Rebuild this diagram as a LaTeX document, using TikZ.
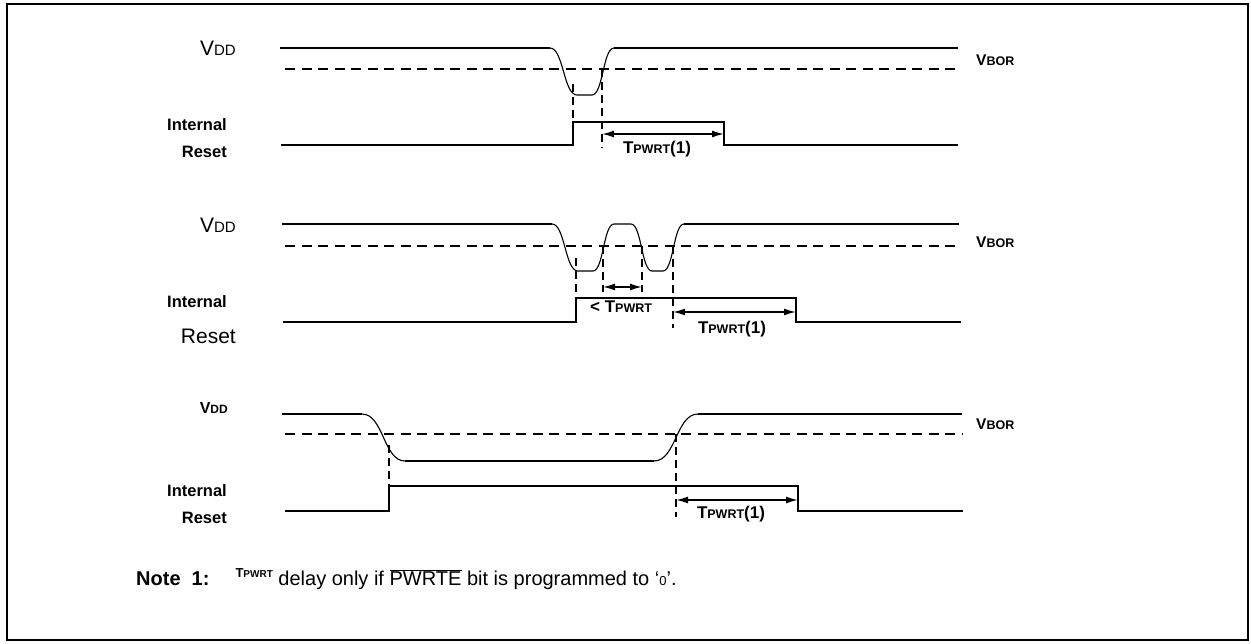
\documentclass[tikz,border=0pt]{standalone}
\usepackage{fontspec}
\setmainfont{Liberation Sans}
\usetikzlibrary{arrows.meta}
\newcommand{\fs}[1]{\fontsize{#1}{#1}\selectfont}
\newcommand{\Tp}{{\bfseries\fs{17}T\fs{12.5}PWRT}}
\newcommand{\Tpone}{{\bfseries\Tp\fs{17}(1)}}
\newcommand{\Vdd}{{\fs{21}V\fs{15}DD}}
\newcommand{\Vddb}{{\bfseries\fs{16}V\fs{12}DD}}
\newcommand{\Vbor}{{\bfseries\fs{15.5}V\fs{12.5}BOR}}
\begin{document}
\begin{tikzpicture}[x=1pt,y=-1pt,
  sig/.style={line width=2pt},
  crv/.style={line width=1.1pt},
  thr/.style={line width=1.8pt, dash pattern=on 10pt off 6.5pt},
  vd/.style={line width=1.8pt, dash pattern=on 8pt off 5pt},
  dim/.style={line width=1.6pt, {Latex[length=12pt,width=7pt]}-{Latex[length=12pt,width=7pt]}},
  lbl/.style={inner sep=0pt, font=\bfseries\fs{16.5}},
  txt/.style={inner sep=0pt}]
\useasboundingbox (0,0) rectangle (1251,643);
\draw[line width=2pt] (7,4) rectangle (1248,640);

% ---------- panel 1 ----------
\node[txt, anchor=base east] (v1) at (236,55) {\Vdd};
\node[lbl, anchor=base east] (i1) at (227,130) {Internal};
\node[lbl, anchor=base east] (r1) at (227,157) {Reset};
\node[txt, anchor=base west] (b1) at (976,65) {\Vbor};
\draw[sig] (280,48) -- (550,48);
\draw[crv] (550,48) .. controls (563.5,48) and (563.5,95) .. (577,95) -- (592,95)
  .. controls (603,95) and (603,48) .. (614,48);
\draw[sig] (614,48) -- (958,48);
\draw[thr] (285,69) -- (958,69);
\draw[vd] (573,84) -- (573,122);
\draw[vd] (602,69) -- (602,148);
\draw[sig] (281,145) -- (573,145) -- (573,122) -- (724,122) -- (724,145) -- (958,145);
\coordinate (a1s) at (602,134);
\coordinate (a1e) at (724,134);
\draw[dim] (a1s) -- (a1e);
\node[txt, anchor=base] (t1) at (657,153) {\Tpone};

% ---------- panel 2 ----------
\node[txt, anchor=base east] (v2) at (236,232) {\Vdd};
\node[lbl, anchor=base east] (i2) at (227,307) {Internal};
\node[txt, anchor=base east] (r2) at (236,343) {\fs{21}Reset};
\node[txt, anchor=base west] (b2) at (976,247) {\Vbor};
\draw[sig] (282,224) -- (552,224);
\draw[crv] (552,224) .. controls (565,224) and (565,271) .. (578,271) -- (593,271)
  .. controls (603.5,271) and (603.5,224) .. (614,224) -- (631,224)
  .. controls (641.5,224) and (641.5,271) .. (652,271) -- (663,271)
  .. controls (673.5,271) and (673.5,224) .. (684,224);
\draw[sig] (684,224) -- (959,224);
\draw[thr] (285,246) -- (959,246);
\draw[vd] (576,258) -- (576,298);
\draw[vd] (603,246) -- (603,292);
\draw[vd] (642,246) -- (642,292);
\draw[vd] (673,246) -- (673,328);
\draw[sig] (283,322) -- (576,322) -- (576,298) -- (796,298) -- (796,322) -- (961,322);
\coordinate (a2s) at (603,287);
\coordinate (a2e) at (642,287);
\draw[dim] (a2s) -- (a2e);
\node[txt, anchor=base west] (lt) at (590,312) {{\bfseries\fs{17}<\ }\Tp};
\coordinate (a3s) at (673,312);
\coordinate (a3e) at (796,312);
\draw[dim] (a3s) -- (a3e);
\node[txt, anchor=base] (t2) at (732,333) {\Tpone};

% ---------- panel 3 ----------
\node[txt, anchor=base east] (v3) at (228,413) {\Vddb};
\node[lbl, anchor=base east] (i3) at (227,496) {Internal};
\node[lbl, anchor=base east] (r3) at (227,523) {Reset};
\node[txt, anchor=base west] (b3) at (976,429) {\Vbor};
\draw[sig] (282,414) -- (362,414);
\draw[crv] (362,414) .. controls (383.5,414) and (383.5,461) .. (405,461);
\draw[sig] (405,461) -- (654,461);
\draw[crv] (654,461) .. controls (676,461) and (676,414) .. (698,414);
\draw[sig] (698,414) -- (962,414);
\draw[thr] (285,434) -- (962,434);
\draw[vd] (389,445) -- (389,486);
\draw[vd] (676,434) -- (676,517);
\draw[sig] (285,511) -- (389,511) -- (389,486) -- (798,486) -- (798,511) -- (963,511);
\coordinate (a4s) at (676,500);
\coordinate (a4e) at (798,500);
\draw[dim] (a4s) -- (a4e);
\node[txt, anchor=base] (t3) at (731,518) {\Tpone};

% ---------- note ----------
\node[txt, anchor=base west] (note) at (136,585) {\fs{20}{\bfseries Note\ \ 1:}\hspace{26pt}\raisebox{8pt}{\bfseries\fs{13}T\fs{10}PWRT}\ delay only if $\overline{\hbox{PWRTE}}$ bit is programmed to ‘{\fs{13}0}’.};
\end{tikzpicture}
\end{document}
